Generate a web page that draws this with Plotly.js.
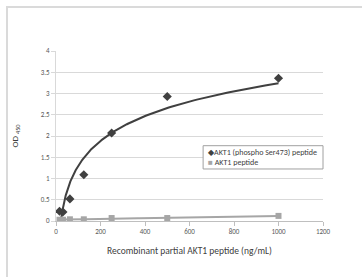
<!DOCTYPE html>
<html><head><meta charset="utf-8">
<script src="https://cdn.plot.ly/plotly-3.0.1.min.js"></script>
<style>
html,body{margin:0;padding:0;background:#fff;}
#frame{position:absolute;left:6px;top:6px;width:400px;height:300px;border-left:2px solid #dadada;border-top:2px solid #dadada;pointer-events:none;z-index:5;}
#chart{width:362px;height:277px;}
</style></head>
<body>
<div id="frame"></div>
<div id="chart"></div>
<script>
var concentrations = [15.625, 31.25, 62.5, 125, 250, 500, 1000];
var phosphoOD = [0.23, 0.21, 0.52, 1.09, 2.07, 2.93, 3.36];
var totalOD = [0.03, 0.03, 0.04, 0.04, 0.07, 0.07, 0.12];
var seriesNames = ['AKT1 (phospho Ser473) peptide', 'AKT1 peptide'];
var seriesColors = ['#404040', '#a6a6a6'];
var xTicks = [0, 200, 400, 600, 800, 1000, 1200];
var yTicks = [0, 0.5, 1, 1.5, 2, 2.5, 3, 3.5, 4];

// Excel-style trendlines fitted to the data
function logFit(xs, ys){
  var n=xs.length, lx=xs.map(Math.log);
  var mx=lx.reduce((a,b)=>a+b)/n, my=ys.reduce((a,b)=>a+b)/n, sxx=0, sxy=0;
  for(var i=0;i<n;i++){sxx+=(lx[i]-mx)*(lx[i]-mx);sxy+=(lx[i]-mx)*(ys[i]-my);}
  var a=sxy/sxx; return {a:a,b:my-a*mx};
}
function linFit(xs, ys){
  var n=xs.length, mx=xs.reduce((a,b)=>a+b)/n, my=ys.reduce((a,b)=>a+b)/n, sxx=0, sxy=0;
  for(var i=0;i<n;i++){sxx+=(xs[i]-mx)*(xs[i]-mx);sxy+=(xs[i]-mx)*(ys[i]-my);}
  var a=sxy/sxx; return {a:a,b:my-a*mx};
}
var lf = logFit(concentrations, phosphoOD);
var li = linFit(concentrations, totalOD);
var xmin = concentrations[0], xmax = concentrations[concentrations.length-1];
var tx=[], tyLog=[], tyLin=[];
for(var k=0;k<=200;k++){
  var x = Math.exp(Math.log(xmin)+(Math.log(xmax)-Math.log(xmin))*k/200);
  tx.push(x); tyLog.push(lf.a*Math.log(x)+lf.b); tyLin.push(li.a*x+li.b);
}

var traces = [
  {x:tx, y:tyLin, mode:'lines', line:{color:seriesColors[1], width:2}, showlegend:false, hoverinfo:'skip'},
  {x:tx, y:tyLog, mode:'lines', line:{color:seriesColors[0], width:2}, showlegend:false, hoverinfo:'skip'},
  {x:concentrations, y:phosphoOD, mode:'markers', name:seriesNames[0], showlegend:false,
   marker:{symbol:'diamond', size:7, color:seriesColors[0]}},
  {x:concentrations, y:totalOD, mode:'markers', name:seriesNames[1], showlegend:false,
   marker:{symbol:'square', size:6, color:seriesColors[1]}}
];

var legX = 0.551, legTop = 0.443, legBot = 0.306;
var layout = {
  width:362, height:277,
  margin:{l:56, r:39, t:51, b:56},
  paper_bgcolor:'#fff', plot_bgcolor:'#fff',
  font:{family:'Carlito, "Liberation Sans", Arial, sans-serif', size:7, color:'#595959'},
  showlegend:false,
  shapes:[{type:'rect', xref:'paper', yref:'paper', x0:legX, x1:1, y0:legBot, y1:legTop,
    line:{color:'#a0a0a0', width:1}, fillcolor:'#fff', layer:'above'}],
  annotations:[
    {xref:'paper', yref:'paper', x:legX+0.01, y:0.404, xanchor:'left', yanchor:'middle', showarrow:false,
     text:'<span style="color:'+seriesColors[0]+'">◆</span>'+seriesNames[0], font:{size:8, color:'#404040'}},
    {xref:'paper', yref:'paper', x:legX+0.01, y:0.349, xanchor:'left', yanchor:'middle', showarrow:false,
     text:'<span style="color:'+seriesColors[1]+'">■</span> '+seriesNames[1], font:{size:8, color:'#404040'}}
  ],
  xaxis:{range:[0,1200], tickvals:xTicks, ticktext:xTicks.map(String),
    showgrid:false, zeroline:false, showline:true, linecolor:'#bfbfbf', linewidth:1,
    ticks:'outside', ticklen:4, tickcolor:'#bfbfbf', tickfont:{size:7, color:'#595959'},
    title:{text:'Recombinant partial AKT1 peptide (ng/mL)', font:{size:9.5, color:'#404040'}, standoff:11}},
  yaxis:{range:[0,4], tickvals:yTicks, ticktext:yTicks.map(String),
    showgrid:true, gridcolor:'#d9d9d9', gridwidth:1, zeroline:false,
    showline:true, linecolor:'#d9d9d9', linewidth:1,
    ticks:'outside', ticklen:4, tickcolor:'#d9d9d9', tickfont:{size:7, color:'#595959'},
    title:{text:'OD <sub>450</sub>', font:{size:9, color:'#404040'}, standoff:20}}
};
Plotly.newPlot('chart', traces, layout, {displayModeBar:false, staticPlot:true});
</script>
</body></html>
